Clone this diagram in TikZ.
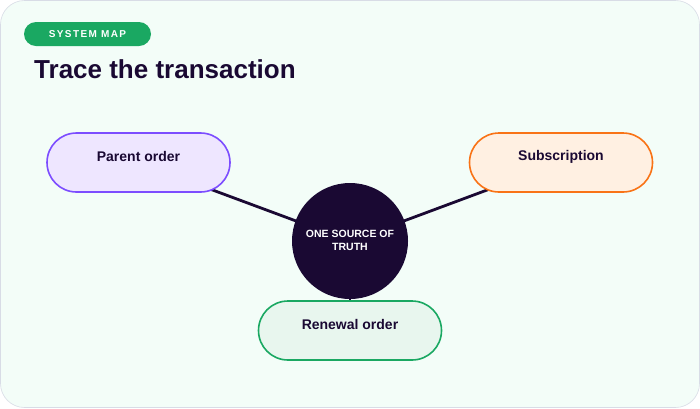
\documentclass[tikz,border=0pt]{standalone}
\usepackage{fontspec}
\setmainfont{Liberation Sans}
\pgfdeclarelayer{bglayer}
\pgfdeclarelayer{linklayer}
\pgfsetlayers{bglayer,linklayer,main}
\definecolor{bgmint}{HTML}{F3FDF8}
\definecolor{bgedge}{HTML}{D8DCE6}
\definecolor{ink}{HTML}{1A0933}
\definecolor{badgegreen}{HTML}{1AA862}
\definecolor{purpfill}{HTML}{EEE6FF}
\definecolor{purpline}{HTML}{7C4DFF}
\definecolor{orfill}{HTML}{FFF0E2}
\definecolor{orline}{HTML}{F97316}
\definecolor{grfill}{HTML}{E8F6EE}
\definecolor{grline}{HTML}{1AA862}
\tikzset{
  pill/.style={draw, line width=1.6pt, rounded corners=29.5pt, minimum width=183pt, minimum height=59pt, inner sep=0pt},
  pilltext/.style={font=\bfseries\fontsize{14}{16}\selectfont, text=ink},
  link/.style={draw=ink, line width=2.8pt}
}
\begin{document}
\begin{tikzpicture}[x=1pt,y=-1pt]
\useasboundingbox (0,0) rectangle (700,408);
\begin{pgfonlayer}{bglayer}
\fill[white] (0,0) rectangle (700,408);
\draw[bgedge, fill=bgmint, line width=0.6pt, rounded corners=24pt] (0.5,0.5) rectangle (699.5,407.5);
\end{pgfonlayer}
% badge
\node[fill=badgegreen, rounded corners=12pt, minimum width=127pt, minimum height=24pt, inner sep=0pt, text=white, font=\bfseries\fontsize{10}{11}\selectfont] (badge) at (87.5,34) {\addfontfeatures{LetterSpace=14}SYSTEM MAP};
\node[anchor=base west, text=ink, font=\bfseries\fontsize{26}{30}\selectfont, inner sep=0pt] (title) at (34,78) {Trace the transaction};
% nodes
\node[circle, fill=ink, minimum size=116pt, inner sep=0pt] (hub) at (350,241) {};
\node[pill, fill=purpfill, draw=purpline] (parent) at (138.5,162.5) {};
\node[pill, fill=orfill, draw=orline] (sub) at (561,162.5) {};
\node[pill, fill=grfill, draw=grline] (renew) at (350,330.5) {};
% links behind
\begin{pgfonlayer}{linklayer}
\draw[link] (parent.center) -- (hub.center);
\draw[link] (sub.center) -- (hub.center);
\draw[link] (renew.center) -- (hub.center);
\end{pgfonlayer}
\node[pilltext] (parenttxt) at (138.5,156.5) {Parent order};
\node[pilltext] (subtxt) at (561,156.5) {Subscription};
\node[pilltext] (renewtxt) at (350,324.5) {Renewal order};
\node[text=white, font=\bfseries\fontsize{10.5}{13}\selectfont, align=center] (hubtxt) at (350,240.5) {ONE SOURCE OF\\TRUTH};
\end{tikzpicture}
\end{document}
